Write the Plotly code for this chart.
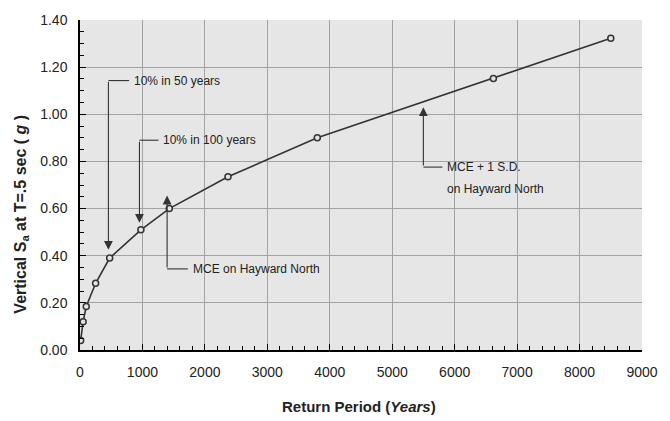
import plotly.graph_objects as go

# Data
return_period = [10, 50, 100, 250, 475, 975, 1430, 2370, 3800, 6620, 8500]
sa_vertical = [0.04, 0.12, 0.185, 0.283, 0.39, 0.51, 0.60, 0.735, 0.90, 1.152, 1.323]

x_ticks = [0, 1000, 2000, 3000, 4000, 5000, 6000, 7000, 8000, 9000]
y_ticks = [0.0, 0.2, 0.4, 0.6, 0.8, 1.0, 1.2, 1.4]

# Callout annotations (elbow leaders)
callout_lines = [["10% in 50 years"], ["10% in 100 years"], ["MCE on Hayward North"],
                 ["MCE + 1 S.D.", "on Hayward North"]]
callout_arrow_x = [455, 952, 1395, 5499]
callout_tip_y = [0.425, 0.54, 0.655, 1.03]
callout_elbow_y = [1.143, 0.890, 0.344, 0.776]
callout_text_x = [831, 1301, 1772, 5848]

INK = "#333333"
FONT = "Liberation Sans, Arial, sans-serif"

fig = go.Figure()
fig.add_trace(go.Scatter(
    x=return_period, y=sa_vertical, mode="lines+markers",
    line=dict(color=INK, width=1.6),
    marker=dict(symbol="circle", size=6, color="#e4e4e4", line=dict(color=INK, width=1.5)),
    showlegend=False, hoverinfo="x+y"))

annotations = []
shapes = []
for lines, ax_, ty, ey, tx in zip(callout_lines, callout_arrow_x, callout_tip_y, callout_elbow_y, callout_text_x):
    annotations.append(dict(x=ax_, y=ty, ax=ax_, ay=ey, xref="x", yref="y", axref="x", ayref="y",
                            text="", showarrow=True, arrowhead=2, arrowsize=1.6, arrowwidth=1.1,
                            arrowcolor=INK, standoff=0, startstandoff=0))
    shapes.append(dict(type="line", xref="x", yref="y", x0=ax_, x1=tx - 45, y0=ey, y1=ey,
                       line=dict(color=INK, width=1.1)))
    for i, ln in enumerate(lines):
        annotations.append(dict(x=tx, y=ey - i * 0.091, xref="x", yref="y", text=ln, showarrow=False,
                                xanchor="left", yanchor="middle",
                                font=dict(family=FONT, size=12, color="#222222")))

annotations.append(dict(x=-0.1045, y=0.411, xref="paper", yref="paper", textangle=-90,
                        text="<b>Vertical S<sub>a</sub> at T=.5 sec ( <i>g</i> )</b>", showarrow=False,
                        xanchor="center", yanchor="middle",
                        font=dict(family=FONT, size=16, color="#222222")))
annotations.append(dict(x=0.497, y=-0.1716, xref="paper", yref="paper",
                        text="<b>Return Period (<i>Years</i>)</b>", showarrow=False,
                        xanchor="center", yanchor="middle",
                        font=dict(family=FONT, size=15, color="#222222")))

fig.update_layout(
    width=670, height=421,
    margin=dict(l=80, r=16, t=12, b=71),
    paper_bgcolor="white", plot_bgcolor="#e6e6e6",
    font=dict(family=FONT, size=14, color="#222222"),
    annotations=annotations, shapes=shapes,
    xaxis=dict(range=[0, 9000], tickvals=x_ticks, ticks="inside", ticklen=6, tickcolor="black",
               showline=True, linecolor="black", linewidth=1.5, showgrid=True, gridcolor="#a3a3a3",
               gridwidth=1, zeroline=False, ticklabelstandoff=8,
               minor=dict(dtick=200, ticks="inside", ticklen=4, tickcolor="black", showgrid=False),
               tickfont=dict(size=14)),
    yaxis=dict(range=[0, 1.4], tickvals=y_ticks, tickformat=".2f", ticks="inside", ticklen=6,
               tickcolor="black", showline=True, linecolor="black", linewidth=1.5, showgrid=True,
               gridcolor="#a3a3a3", gridwidth=1, zeroline=False, ticklabelstandoff=8,
               minor=dict(dtick=0.05, ticks="inside", ticklen=4, tickcolor="black", showgrid=False),
               tickfont=dict(size=14)),
)

fig.write_html("out.html")
